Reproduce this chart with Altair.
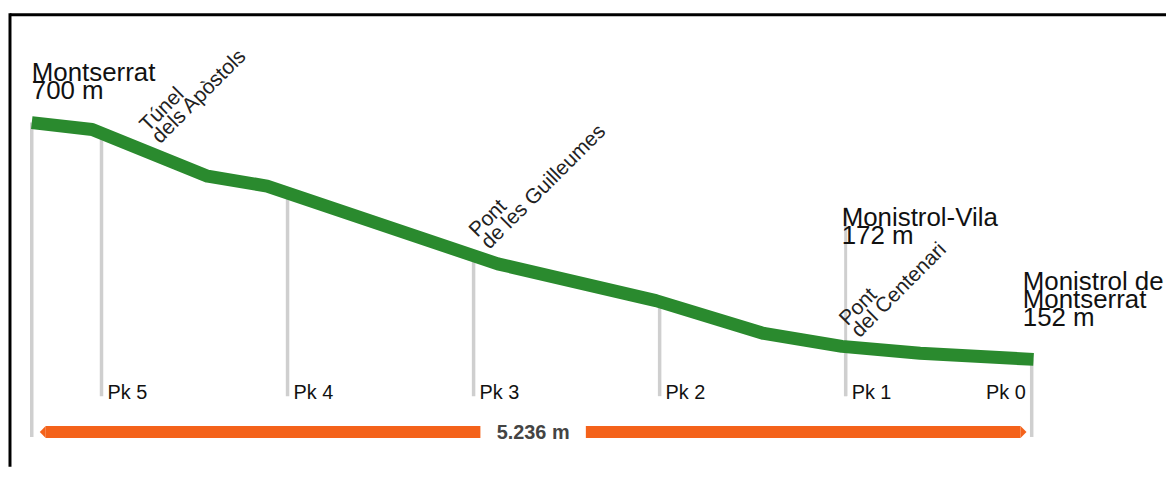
import altair as alt
import pandas as pd

# ---------------- data ----------------
# Track profile: kilometre marker (Pk) and elevation in metres
profile_pk = [5.375, 5.05, 4.43, 4.11, 2.87, 2.09, 2.02, 1.44, 1.02, 0.60, -0.01]
profile_elev = [700, 684, 576, 553, 373, 295, 288, 212, 182, 166, 152]

# Kilometre markers and the track elevation at each of them
pk_marks = [5, 4, 3, 2, 1, 0]
pk_track_elev = [676, 539, 394, 288, 182, 152]
pk_labels = ["Pk 5", "Pk 4", "Pk 3", "Pk 2", "Pk 1", "Pk 0"]

# Stations
station_names = ["Montserrat", "Monistrol-Vila", "Monistrol de\nMontserrat"]
station_elev = [700, 172, 152]
station_pk = [5.375, 1.0, 0.0]

# Features along the line (tunnel / bridges)
feature_names = ["Túnel\ndels Apòstols", "Pont\nde les Guilleumes", "Pont\ndel Centenari"]
feature_pk = [4.75, 2.98, 0.99]
feature_track_elev = [631, 387, 182]

# Route length arrow
route_length_label = "5.236 m"
arrow_from_pk = 5.30
arrow_to_pk = 0.06

# ---------------- tables ----------------
profile = pd.DataFrame({"pk": profile_pk, "elev": profile_elev})
pks = pd.DataFrame({"pk": pk_marks, "elev": pk_track_elev, "label": pk_labels})
stations = pd.DataFrame({
    "pk": station_pk,
    "elev": station_elev,
    "name": station_names,
    "label": [f"{n}\n{e} m" for n, e in zip(station_names, station_elev)],
})
features = pd.DataFrame({"pk": feature_pk, "elev": feature_track_elev, "label": feature_names})
arrow = pd.DataFrame({"a": [arrow_from_pk], "b": [arrow_to_pk],
                      "mid": [(arrow_from_pk + arrow_to_pk) / 2], "label": [route_length_label]})
one = pd.DataFrame({"k": [0]})

W, H = 1164, 460
GREEN = "#2a8a2e"
ORANGE = "#f4621a"
GRAY = "#cfcfcf"
FONT = "Liberation Sans"

xs = alt.Scale(domain=[-0.7219, 5.5027], reverse=True, nice=False, zero=False)
ys = alt.Scale(domain=[-96.7, 962.5], nice=False, zero=False)


def X(field="pk"):
    return alt.X(f"{field}:Q", scale=xs, axis=None)


def Y(field="elev"):
    return alt.Y(f"{field}:Q", scale=ys, axis=None)


# frame (top and left edges visible in the reference)
frame_top = alt.Chart(one).mark_rule(color="black", strokeWidth=3).encode(
    x=alt.value(2), x2=alt.value(W), y=alt.value(5.5))
frame_left = alt.Chart(one).mark_rule(color="black", strokeWidth=3).encode(
    x=alt.value(2), y=alt.value(4), y2=alt.value(H))

# gray marker lines
pk_rules = alt.Chart(pks).transform_filter("datum.pk >= 1").mark_rule(
    color=GRAY, strokeWidth=3.5).encode(x=X(), y=Y(), y2=alt.value(389))
end_rules = alt.Chart(stations).transform_filter("datum.name != 'Monistrol-Vila'").mark_rule(
    color=GRAY, strokeWidth=3.5).encode(x=X(), y=Y(), y2=alt.value(430))
vila_rule = alt.Chart(stations).transform_filter("datum.name == 'Monistrol-Vila'").mark_rule(
    color=GRAY, strokeWidth=3).encode(x=X(), y=alt.value(199), y2=alt.value(389))

# length arrow
shaft = alt.Chart(arrow).mark_rule(color=ORANGE, strokeWidth=12, strokeCap="butt").encode(
    x=X("a"), x2=alt.X2("b"), y=alt.value(425))
gap = alt.Chart(arrow).mark_rule(color="white", strokeWidth=16, xOffset=-53, x2Offset=53).encode(
    x=X("mid"), x2=alt.X2("mid"), y=alt.value(425))
tip_left = alt.Chart(arrow).mark_point(shape="M-1,0L0,-1L0,1Z", size=144, filled=True,
                                       color=ORANGE, opacity=1, strokeWidth=0).encode(
    x=X("a"), y=alt.value(425))
tip_right = alt.Chart(arrow).mark_point(shape="M1,0L0,-1L0,1Z", size=144, filled=True,
                                        color=ORANGE, opacity=1, strokeWidth=0).encode(
    x=X("b"), y=alt.value(425))
length_text = alt.Chart(arrow).mark_text(font=FONT, fontSize=20, fontWeight="bold", color="#444444",
                                         align="center", baseline="middle").encode(
    x=X("mid"), y=alt.value(426), text="label:N")

# elevation profile
line = alt.Chart(profile).transform_window(pk_order="row_number()").mark_line(
    color=GREEN, strokeWidth=13, strokeJoin="round", strokeCap="butt").encode(
    x=X(), y=Y(), order="pk_order:Q")

# Pk labels
pk_text = alt.Chart(pks).transform_filter("datum.pk >= 1").mark_text(
    font=FONT, fontSize=20, align="left", dx=6, baseline="alphabetic", color="#111111").encode(
    x=X(), y=alt.value(392), text="label:N")
pk0_text = alt.Chart(pks).transform_filter("datum.pk < 1").mark_text(
    font=FONT, fontSize=20, align="right", dx=-6, baseline="alphabetic", color="#111111").encode(
    x=X(), y=alt.value(392), text="label:N")

# station labels
st_style = dict(font=FONT, fontSize=26, align="left", baseline="alphabetic",
                lineBreak="\n", lineHeight=18, color="#111111")
st_mont = alt.Chart(stations).transform_filter("datum.name == 'Montserrat'").mark_text(
    dx=0, **st_style).encode(x=X(), y=alt.value(72), text="label:N")
st_vila = alt.Chart(stations).transform_filter("datum.name == 'Monistrol-Vila'").mark_text(
    dx=-4, **st_style).encode(x=X(), y=alt.value(218), text="label:N")
st_end = alt.Chart(stations).transform_filter("datum.pk == 0").mark_text(
    dx=-9, **st_style).encode(x=X(), y=alt.value(282), text="label:N")

# slanted feature labels
feat_text = alt.Chart(features).mark_text(
    font=FONT, fontSize=21, align="left", baseline="alphabetic", angle=315,
    lineBreak="\n", lineHeight=17, color="#222222", yOffset=-20).encode(
    x=X(), y=Y(), text="label:N")

chart = alt.layer(
    frame_top, frame_left,
    pk_rules, end_rules, vila_rule,
    shaft, gap, tip_left, tip_right, length_text,
    line,
    pk_text, pk0_text,
    st_mont, st_vila, st_end,
    feat_text,
).properties(
    width=W, height=H, padding=0,
    autosize=alt.AutoSizeParams(type="none"),
    background="white",
).configure_view(stroke=None)

chart.save("out.html", embed_options={"renderer": "svg", "actions": False})
